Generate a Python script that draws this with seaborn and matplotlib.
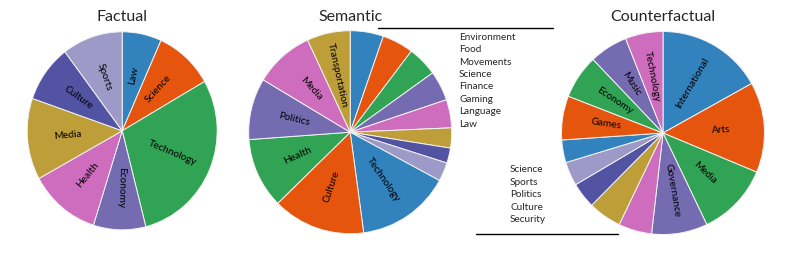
import matplotlib
matplotlib.use("Agg")
import matplotlib.pyplot as plt
import seaborn as sns
import numpy as np
from matplotlib.lines import Line2D

# slice shares (percent), clockwise from 12 o'clock
factual_labels = ["Law", "Science", "Technology", "Economy", "Health", "Media", "Culture", "Sports"]
factual_values = [6.7, 10.0, 29.3, 8.9, 12.1, 13.3, 9.4, 10.3]

semantic_labels = ["Environment", "Food", "Movements", "Science", "Finance", "Gaming",
                   "Language", "Law", "Technology", "Culture", "Health", "Politics",
                   "Media", "Transportation"]
semantic_values = [5.3, 5.0, 4.8, 4.75, 4.5, 3.2, 2.4, 3.0, 15.0, 14.8, 11.2, 9.8, 9.5, 6.9]

counter_labels = ["International", "Arts", "Media", "Governance", "Science", "Sports",
                  "Politics", "Culture", "Security", "Games", "Economy", "Music", "Technology"]
counter_values = [16.9, 14.4, 11.6, 8.9, 5.3, 5.3, 4.1, 3.8, 3.6, 7.0, 7.0, 6.1, 6.0]

# small slices get their names in a side list instead of inside the slice
semantic_listed = semantic_labels[:8]
counter_listed = counter_labels[4:9]

colors = sns.color_palette(["#3182bd", "#e6550d", "#31a354", "#756bb1",
                            "#ce6dbd", "#bd9e39", "#5254a3", "#9e9ac8"])

sns.set_theme(style="white")
plt.rcParams["font.family"] = ["Lato", "DejaVu Sans"]

W, H = 793, 264
fig = plt.figure(figsize=(W / 100, H / 100), dpi=100)


def draw_pie(title, labels, values, skip, cx, cy, rx, ry):
    ax = fig.add_axes([(cx - rx) / W, (H - cy - ry) / H, 2 * rx / W, 2 * ry / H])
    cols = [colors[i % len(colors)] for i in range(len(values))]
    wedges, _ = ax.pie(values, colors=cols, startangle=90, counterclock=False,
                       wedgeprops=dict(edgecolor="#f2f2f2", linewidth=0.7))
    for w, lab in zip(wedges, labels):
        if lab in skip:
            continue
        mid = (w.theta1 + w.theta2) / 2
        x = 0.57 * np.cos(np.deg2rad(mid))
        y = 0.57 * np.sin(np.deg2rad(mid))
        rot = ((mid + 95) % 180) - 95
        ax.text(x, y, lab, ha="center", va="center", rotation=rot,
                rotation_mode="anchor", fontsize=7.3, color="black")
    ax.set_xlim(-1, 1)
    ax.set_ylim(-1, 1)
    ax.set_aspect("auto")
    ax.axis("off")
    fig.text(cx / W, 1 - 17 / H, title, ha="center", va="center", fontsize=11.5)


draw_pie("Factual", factual_labels, factual_values, [], 122.2, 130.8, 95, 99)
draw_pie("Semantic", semantic_labels, semantic_values, semantic_listed, 350.2, 132.2, 101.5, 101.5)
draw_pie("Counterfactual", counter_labels, counter_values, counter_listed, 663, 133, 101.5, 101.5)

fig.text(459 / W, 1 - 33 / H, "\n".join(semantic_listed), ha="left", va="top",
         fontsize=7.2, linespacing=1.48)
fig.text(510 / W, 1 - 165.5 / H, "\n".join(counter_listed), ha="left", va="top",
         fontsize=7.2, linespacing=1.48)

fig.add_artist(Line2D([378 / W, 553 / W], [1 - 27.5 / H] * 2, color="black", lw=1))
fig.add_artist(Line2D([476 / W, 618 / W], [1 - 234.3 / H] * 2, color="black", lw=1))

fig.savefig("out.png", dpi=100)
plt.close(fig)
